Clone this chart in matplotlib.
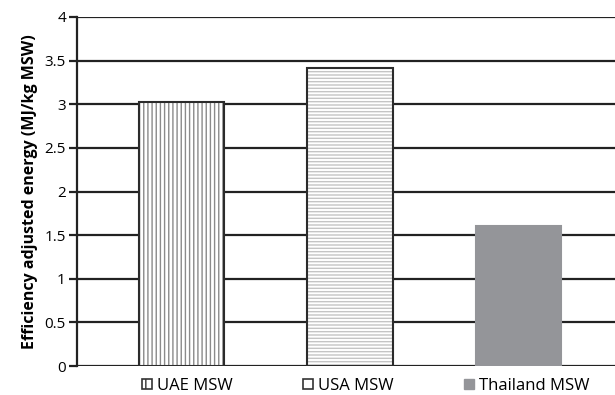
import matplotlib

matplotlib.use("Agg")
import matplotlib.pyplot as plt
from matplotlib.patches import Patch

categories = ["UAE MSW", "USA MSW", "Thailand MSW"]
energy = [3.03, 3.42, 1.60]
y_ticks = [0, 0.5, 1, 1.5, 2, 2.5, 3, 3.5, 4]
y_tick_labels = ["0", "0.5", "1", "1.5", "2", "2.5", "3", "3.5", "4"]

plt.rcParams["font.family"] = ["Open Sans", "DejaVu Sans"]
plt.rcParams["hatch.linewidth"] = 1.0

fig = plt.figure(figsize=(6.15, 3.95), dpi=100)
ax = fig.add_axes([77 / 615, 29 / 395, 538 / 615, 349 / 395])

styles = [
    dict(facecolor="white", hatch="||||", edgecolor="#8a8a8a"),
    dict(facecolor="white", hatch="-----", edgecolor="#c4c4c4"),
    dict(facecolor="#949599", hatch=None, edgecolor="#949599"),
]
outline = ["#2b2b2b", "#2b2b2b", "#949599"]

x = list(range(len(categories)))
for xi, val, st, oc in zip(x, energy, styles, outline):
    ax.bar(xi, val, width=0.505, zorder=3, linewidth=0, **st)
    ax.bar(xi, val, width=0.505, zorder=4, facecolor="none", edgecolor=oc, linewidth=1.5)

ax.set_ylim(0, 4)
ax.set_xlim(-0.62, 2.573)
ax.set_yticks(y_ticks, y_tick_labels)
ax.set_xticks([])
ax.yaxis.grid(True, color="#222222", linewidth=1.6, zorder=1)
for side in ["top", "right", "bottom"]:
    ax.spines[side].set_visible(False)
ax.spines["left"].set_linewidth(1.6)
ax.spines["left"].set_color("#222222")
ax.tick_params(axis="y", length=6, width=1.6, color="#222222", labelsize=11, pad=2)
ax.set_ylabel("Efficiency adjusted energy (MJ/kg MSW)", fontsize=11.5, fontweight="bold", labelpad=5)

handles = [
    Patch(facecolor="white", edgecolor="#333333", hatch="||", linewidth=1.2),
    Patch(facecolor="white", edgecolor="#333333", hatch="-", linewidth=1.2),
    Patch(facecolor="#949599", edgecolor="#949599"),
]
fig.legend(handles, categories, loc="lower center", bbox_to_anchor=(0.595, -0.035), ncol=3,
           frameon=False, fontsize=12, handlelength=0.6, handleheight=0.6,
           handletextpad=0.3, columnspacing=4.2)

fig.savefig("out.png", dpi=100)
